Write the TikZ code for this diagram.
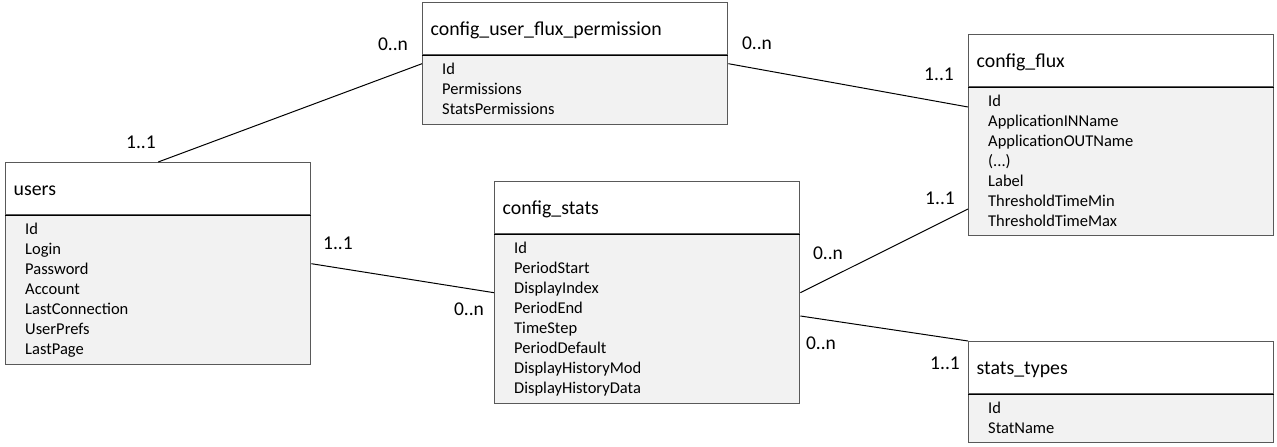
\documentclass[tikz,border=0pt]{standalone}
\usepackage{fontspec}
\setmainfont{Carlito}
\usepackage{tikz}
\usetikzlibrary{calc}

\definecolor{tblline}{RGB}{89,89,89}
\definecolor{tblfill}{RGB}{242,242,242}
\newcommand{\tbltitle}{\fontsize{19.8}{24}\selectfont}
\newcommand{\tblfield}{\fontsize{16.5}{20}\selectfont}
\newcommand{\tbllabel}{\fontsize{19.5}{24}\selectfont}

\tikzset{
  tbl/.style={draw=tblline, line width=1.4pt, fill=tblfill, minimum width=305pt, inner sep=0pt, anchor=north west},
  tblhead/.style={draw=tblline, line width=1.4pt, fill=white, anchor=north west, minimum height=52pt,
    inner xsep=8pt, inner ysep=0pt, text width=289pt, align=left, text height=17pt, text depth=3pt, font=\tbltitle},
  tblsep/.style={black, line width=1.2pt},
  tblfields/.style={anchor=north west, inner xsep=20pt, inner ysep=7pt, align=left, font=\tblfield},
  rel/.style={black, line width=1pt},
  mult/.style={inner sep=0pt, font=\tbllabel}
}

\begin{document}
\begin{tikzpicture}[x=1pt,y=1pt,yscale=-1,xscale=1]
	\path[use as bounding box] (0,0) rectangle (1277,447);
	
	% Table users
	\node[tbl, minimum height=202pt] (users) at (5,162) {};
	\node[tblhead] (users-head) at (users.north west) {users};
	\draw[tblsep] (users-head.south west) -- (users-head.south east);
	\node[tblfields] (users-fields) at (users-head.south west) {Id\\Login\\Password\\Account\\LastConnection\\UserPrefs\\LastPage};
	
	% Table config_user_flux_permission
	\node[tbl, minimum height=122pt] (perm) at (422,2) {};
	\node[tblhead] (perm-head) at (perm.north west) {config\_user\_flux\_permission};
	\draw[tblsep] (perm-head.south west) -- (perm-head.south east);
	\node[tblfields] (perm-fields) at (perm-head.south west) {Id\\Permissions\\StatsPermissions};
	
	% Table config_flux
	\node[tbl, minimum height=201pt] (flux) at (968,34) {};
	\node[tblhead] (flux-head) at (flux.north west) {config\_flux};
	\draw[tblsep] (flux-head.south west) -- (flux-head.south east);
	\node[tblfields] (flux-fields) at (flux-head.south west) {Id\\ApplicationINName\\ApplicationOUTName\\(...)\\Label\\ThresholdTimeMin\\ThresholdTimeMax};
	
	% Table config_stats
	\node[tbl, minimum height=222pt] (stats) at (494,181) {};
	\node[tblhead] (stats-head) at (stats.north west) {config\_stats};
	\draw[tblsep] (stats-head.south west) -- (stats-head.south east);
	\node[tblfields] (stats-fields) at (stats-head.south west) {Id\\PeriodStart\\DisplayIndex\\PeriodEnd\\TimeStep\\PeriodDefault\\DisplayHistoryMod\\DisplayHistoryData};
	
	% Table stats_types
	\node[tbl, minimum height=101pt] (types) at (968,341) {};
	\node[tblhead] (types-head) at (types.north west) {stats\_types};
	\draw[tblsep] (types-head.south west) -- (types-head.south east);
	\node[tblfields] (types-fields) at (types-head.south west) {Id\\StatName};
	
	% Relations
	\draw[rel] (users.north) -- (perm.west);
	\draw[rel] (perm.east) -- ($(flux.north west)+(0,73)$);
	\draw[rel] (users.east) -- (stats.west);
	\draw[rel] (stats.east) -- ($(flux.north west)+(0,175)$);
	\draw[rel] ($(stats.north east)+(0,135)$) -- (types.north west);
	
	% Multiplicities
	\node[mult] (m-users-perm) at (141,142) {1..1};
	\node[mult] (m-perm-users) at (393,44) {0..n};
	\node[mult] (m-perm-flux) at (757,43) {0..n};
	\node[mult] (m-flux-perm) at (939,74) {1..1};
	\node[mult] (m-users-stats) at (338,243) {1..1};
	\node[mult] (m-stats-users) at (469,309) {0..n};
	\node[mult] (m-stats-flux) at (828,253) {0..n};
	\node[mult] (m-flux-stats) at (940,198) {1..1};
	\node[mult] (m-stats-types) at (821,343) {0..n};
	\node[mult] (m-types-stats) at (945,363) {1..1};
	
\end{tikzpicture}
\end{document}
